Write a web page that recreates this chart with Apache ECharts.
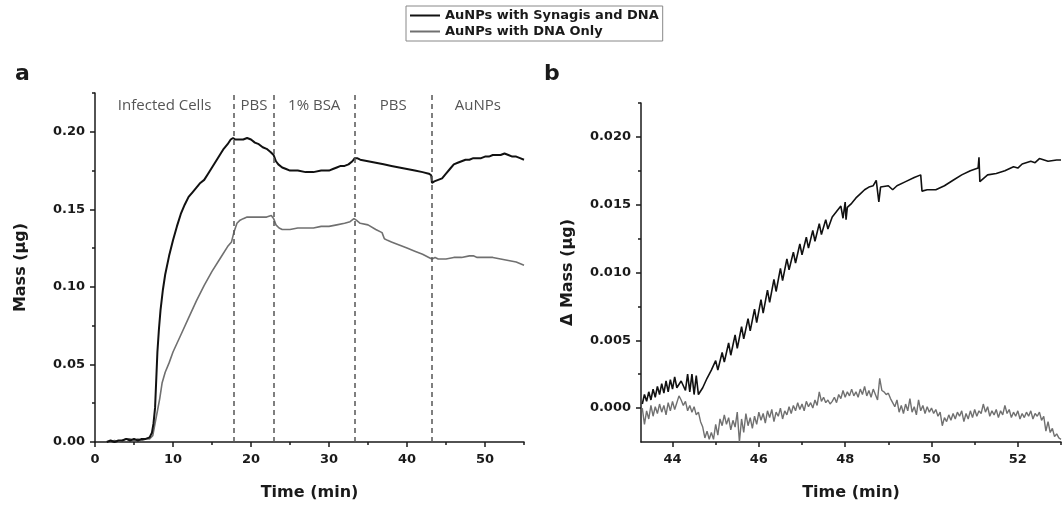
<!DOCTYPE html>
<html>
<head>
<meta charset="utf-8">
<title>AuNPs mass</title>
<script src="https://cdn.jsdelivr.net/npm/echarts@6/dist/echarts.min.js"></script>
<style>
  html, body { margin: 0; padding: 0; background: #fff; }
  #chart { width: 1062px; height: 505px; }
</style>
</head>
<body>
<div id="chart"></div>
<script>
// panel a: [time (min), mass (ug)]
const synagisA = [
  [1.5,0.000],[2,0.001],[2.5,0.000],[3,0.001],[3.5,0.001],[4,0.002],[4.5,0.001],[5,0.002],[5.5,0.001],[6,0.002],
  [6.5,0.002],[7,0.003],[7.3,0.006],[7.5,0.012],[7.7,0.022],[7.85,0.040],[8,0.058],[8.2,0.073],[8.4,0.085],[8.7,0.098],
  [9,0.108],[9.5,0.120],[10,0.130],[10.5,0.139],[11,0.147],[11.5,0.153],[12,0.158],[12.5,0.161],[13,0.164],[13.5,0.167],
  [14,0.169],[14.5,0.173],[15,0.177],[15.5,0.181],[16,0.185],[16.5,0.189],[17,0.192],[17.4,0.195],[17.7,0.196],[18,0.195],
  [18.5,0.195],[19,0.195],[19.5,0.196],[20,0.195],[20.5,0.193],[21,0.192],[21.5,0.190],[22,0.189],[22.5,0.187],[22.9,0.185],
  [23.2,0.181],[23.5,0.179],[24,0.177],[24.5,0.176],[25,0.175],[26,0.175],[27,0.174],[28,0.174],[29,0.175],[30,0.175],
  [30.5,0.176],[31,0.177],[31.5,0.178],[32,0.178],[32.5,0.179],[33,0.181],[33.3,0.183],[33.6,0.183],[34,0.182],[35,0.181],
  [36,0.180],[37,0.179],[38,0.178],[39,0.177],[40,0.176],[41,0.175],[42,0.174],[42.8,0.173],[43.1,0.172],[43.2,0.167],
  [43.5,0.168],[44,0.169],[44.5,0.170],[45,0.173],[45.5,0.176],[46,0.179],[46.5,0.180],[47,0.181],[47.5,0.182],[48,0.182],
  [48.5,0.183],[49,0.183],[49.5,0.183],[50,0.184],[50.5,0.184],[51,0.185],[51.5,0.185],[52,0.185],[52.5,0.186],[53,0.185],
  [53.5,0.184],[54,0.184],[54.5,0.183],[55,0.182]
];
const dnaOnlyA = [
  [1.5,0.000],[2,0.000],[2.5,0.001],[3,0.000],[3.5,0.001],[4,0.002],[4.5,0.002],[5,0.001],[5.5,0.002],[6,0.001],
  [6.5,0.002],[7,0.002],[7.4,0.004],[7.7,0.012],[8,0.020],[8.3,0.028],[8.6,0.038],[9,0.045],[9.5,0.051],[10,0.058],
  [11,0.069],[12,0.080],[13,0.091],[14,0.101],[15,0.110],[16,0.118],[17,0.126],[17.5,0.129],[17.8,0.135],[18.2,0.141],
  [18.6,0.143],[19,0.144],[19.5,0.145],[20,0.145],[21,0.145],[22,0.145],[22.6,0.146],[22.9,0.144],[23.2,0.140],[23.6,0.138],
  [24,0.137],[25,0.137],[26,0.138],[27,0.138],[28,0.138],[29,0.139],[30,0.139],[31,0.140],[32,0.141],[32.7,0.142],
  [33.2,0.144],[33.5,0.143],[34,0.141],[35,0.140],[36,0.137],[36.8,0.135],[37.1,0.131],[37.5,0.130],[38,0.129],[39,0.127],
  [40,0.125],[41,0.123],[42,0.121],[42.8,0.119],[43.2,0.118],[43.6,0.119],[44,0.118],[45,0.118],[46,0.119],[47,0.119],
  [48,0.120],[48.5,0.120],[49,0.119],[50,0.119],[51,0.119],[52,0.118],[53,0.117],[54,0.116],[55,0.114]
];

// panel b: [time (min), delta mass (ug)]
const synagisB = [
  [43.30,0.0003],[43.35,0.0010],[43.40,0.0005],[43.45,0.0012],[43.50,0.0006],[43.55,0.0014],[43.60,0.0008],[43.65,0.0016],
  [43.70,0.0010],[43.75,0.0018],[43.80,0.0011],[43.85,0.0020],[43.90,0.0012],[43.95,0.0021],[44.00,0.0014],[44.05,0.0023],
  [44.10,0.0015],[44.20,0.0020],[44.30,0.0013],[44.35,0.0025],[44.40,0.0012],[44.45,0.0025],[44.50,0.0010],[44.55,0.0024],
  [44.60,0.0010],[44.70,0.0015],[44.80,0.0022],[44.90,0.0028],[45.00,0.0035],[45.05,0.0028],[45.15,0.0041],[45.20,0.0034],
  [45.30,0.0048],[45.35,0.0039],[45.45,0.0054],[45.50,0.0044],[45.60,0.0060],[45.65,0.0051],[45.75,0.0066],[45.80,0.0057],
  [45.90,0.0073],[45.95,0.0063],[46.05,0.0080],[46.10,0.0070],[46.20,0.0087],[46.25,0.0078],[46.35,0.0095],[46.40,0.0086],
  [46.50,0.0103],[46.55,0.0094],[46.65,0.0110],[46.70,0.0102],[46.80,0.0115],[46.85,0.0107],[46.95,0.0121],[47.00,0.0113],
  [47.10,0.0126],[47.15,0.0118],[47.25,0.0131],[47.30,0.0123],[47.40,0.0136],[47.45,0.0128],[47.55,0.0139],[47.60,0.0132],
  [47.70,0.0141],[47.80,0.0145],[47.90,0.0149],[47.95,0.0140],[48.00,0.0152],[48.02,0.0139],[48.05,0.0148],[48.15,0.0151],
  [48.25,0.0155],[48.35,0.0158],[48.45,0.0161],[48.55,0.0163],[48.65,0.0164],[48.72,0.0168],[48.78,0.0152],[48.82,0.0163],
  [49.00,0.0164],[49.10,0.0161],[49.20,0.0164],[49.40,0.0167],[49.60,0.0170],[49.75,0.0172],[49.78,0.0160],[49.90,0.0161],
  [50.10,0.0161],[50.30,0.0164],[50.50,0.0168],[50.70,0.0172],[50.90,0.0175],[51.08,0.0177],[51.10,0.0185],[51.12,0.0167],
  [51.30,0.0172],[51.50,0.0173],[51.70,0.0175],[51.90,0.0178],[52.00,0.0177],[52.10,0.0180],[52.30,0.0182],[52.40,0.0181],
  [52.50,0.0184],[52.70,0.0182],[52.90,0.0183],[53.00,0.0183]
];
const dnaOnlyB = [
  [43.30,0.0000],[43.35,-0.0012],[43.40,-0.0002],[43.45,-0.0008],[43.50,0.0002],[43.55,-0.0006],[43.60,0.0001],[43.65,-0.0004],
  [43.70,0.0003],[43.75,-0.0003],[43.80,0.0002],[43.85,-0.0005],[43.90,0.0004],[43.95,-0.0002],[44.00,0.0005],[44.05,-0.0001],
  [44.10,0.0004],[44.15,0.0009],[44.20,0.0006],[44.25,0.0002],[44.30,0.0005],[44.35,-0.0002],[44.40,0.0002],[44.45,-0.0003],
  [44.50,0.0001],[44.55,-0.0005],[44.60,-0.0003],[44.65,-0.0010],[44.70,-0.0014],[44.75,-0.0022],[44.80,-0.0017],[44.85,-0.0023],
  [44.90,-0.0018],[44.95,-0.0023],[45.00,-0.0012],[45.05,-0.0020],[45.10,-0.0008],[45.15,-0.0013],[45.20,-0.0005],[45.25,-0.0012],
  [45.30,-0.0007],[45.35,-0.0016],[45.40,-0.0009],[45.45,-0.0014],[45.50,-0.0003],[45.55,-0.0025],[45.60,-0.0008],[45.65,-0.0018],
  [45.70,-0.0004],[45.75,-0.0013],[45.80,-0.0007],[45.85,-0.0015],[45.90,-0.0006],[45.95,-0.0012],[46.00,-0.0003],[46.05,-0.0009],
  [46.10,-0.0004],[46.15,-0.0011],[46.20,-0.0002],[46.25,-0.0007],[46.30,-0.0001],[46.35,-0.0010],[46.40,-0.0003],[46.45,-0.0006],
  [46.50,0.0000],[46.55,-0.0008],[46.60,-0.0002],[46.65,-0.0005],[46.70,0.0001],[46.75,-0.0004],[46.80,0.0002],[46.85,-0.0002],
  [46.90,0.0004],[46.95,-0.0001],[47.00,0.0003],[47.05,-0.0002],[47.10,0.0005],[47.15,0.0001],[47.20,0.0004],[47.25,0.0000],
  [47.30,0.0006],[47.35,0.0002],[47.40,0.0012],[47.45,0.0005],[47.50,0.0008],[47.55,0.0004],[47.60,0.0006],[47.65,0.0003],
  [47.70,0.0005],[47.75,0.0008],[47.80,0.0004],[47.85,0.0010],[47.90,0.0007],[47.95,0.0013],[48.00,0.0008],[48.05,0.0012],
  [48.10,0.0009],[48.15,0.0014],[48.20,0.0009],[48.25,0.0012],[48.30,0.0008],[48.35,0.0014],[48.40,0.0010],[48.45,0.0016],
  [48.50,0.0009],[48.55,0.0013],[48.60,0.0008],[48.65,0.0014],[48.70,0.0010],[48.75,0.0006],[48.80,0.0022],[48.85,0.0013],
  [48.90,0.0012],[48.95,0.0010],[49.00,0.0011],[49.05,0.0007],[49.10,0.0004],[49.15,0.0001],[49.20,0.0006],[49.25,-0.0003],
  [49.30,0.0002],[49.35,-0.0004],[49.40,0.0003],[49.45,-0.0002],[49.50,0.0007],[49.55,-0.0003],[49.60,0.0001],[49.65,-0.0005],
  [49.70,0.0006],[49.75,-0.0002],[49.80,0.0002],[49.85,-0.0004],[49.90,0.0001],[49.95,-0.0003],[50.00,0.0000],[50.05,-0.0004],
  [50.10,-0.0001],[50.15,-0.0006],[50.20,-0.0003],[50.25,-0.0013],[50.30,-0.0007],[50.35,-0.0010],[50.40,-0.0005],[50.45,-0.0009],
  [50.50,-0.0004],[50.55,-0.0008],[50.60,-0.0003],[50.65,-0.0006],[50.70,-0.0002],[50.75,-0.0010],[50.80,-0.0004],[50.85,-0.0008],
  [50.90,-0.0002],[50.95,-0.0007],[51.00,-0.0001],[51.05,-0.0006],[51.10,-0.0002],[51.15,-0.0004],[51.20,0.0003],[51.25,-0.0003],
  [51.30,0.0001],[51.35,-0.0006],[51.40,-0.0002],[51.45,-0.0005],[51.50,-0.0001],[51.55,-0.0007],[51.60,-0.0002],[51.65,-0.0005],
  [51.70,0.0002],[51.75,-0.0004],[51.80,-0.0001],[51.85,-0.0007],[51.90,-0.0003],[51.95,-0.0006],[52.00,-0.0002],[52.05,-0.0008],
  [52.10,-0.0004],[52.15,-0.0007],[52.20,-0.0003],[52.25,-0.0006],[52.30,-0.0002],[52.35,-0.0008],[52.40,-0.0004],[52.45,-0.0006],
  [52.50,-0.0003],[52.55,-0.0009],[52.60,-0.0006],[52.65,-0.0017],[52.70,-0.0010],[52.75,-0.0018],[52.80,-0.0015],[52.85,-0.0021],
  [52.90,-0.0019],[52.95,-0.0022],[53.00,-0.0023]
];

// injection stages in panel a
const stageEdges = [0, 17.84, 22.92, 33.29, 43.19, 55];
const stageNames = ['Infected Cells', 'PBS', '1% BSA', 'PBS', 'AuNPs'];

// tick / label positions
const ticksAx = [0, 10, 20, 30, 40, 50];
const minorAx = [5, 15, 25, 35, 45, 55];
const ticksAy = [0, 0.05, 0.1, 0.15, 0.2];
const minorAy = [0.025, 0.075, 0.125, 0.175, 0.225];
const ticksBx = [44, 46, 48, 50, 52];
const minorBx = [45, 47, 49, 51, 53];
const ticksBy = [0, 0.005, 0.01, 0.015, 0.02];
const minorBy = [0.0025, 0.0075, 0.0125, 0.0175, 0.0225];

const nameSynagis = 'AuNPs with Synagis and DNA';
const nameDna = 'AuNPs with DNA Only';

const INK = '#1a1a1a';
const BOLD = 'DejaVu Sans';

function mainAxis(grid, min, max, labels, fmt, name, gap) {
  return {
    type: 'value', gridIndex: grid, min: min, max: max,
    name: name, nameLocation: 'middle', nameGap: gap,
    nameTextStyle: { fontFamily: BOLD, fontWeight: 'bold', fontSize: 16, color: INK },
    axisLine: { show: true, onZero: false, lineStyle: { color: INK, width: 1.5 } },
    axisTick: { show: true, customValues: labels, length: 5, lineStyle: { color: INK, width: 1.5 } },
    axisLabel: {
      customValues: labels, formatter: fmt, margin: 10,
      fontFamily: BOLD, fontWeight: 'bold', fontSize: 13, color: INK
    },
    splitLine: { show: false }
  };
}

function minorAxis(grid, min, max, ticks) {
  return {
    type: 'value', gridIndex: grid, min: min, max: max,
    axisLine: { show: false, onZero: false },
    axisTick: { show: true, customValues: ticks, length: 3, lineStyle: { color: INK, width: 1.5 } },
    axisLabel: { show: false },
    splitLine: { show: false }
  };
}

const xAxes = [
  mainAxis(0, 0, 55, ticksAx, (v) => String(v), 'Time (min)', 43),
  mainAxis(1, 43.27, 53, ticksBx, (v) => String(v), 'Time (min)', 43),
  minorAxis(0, 0, 55, minorAx),
  minorAxis(1, 43.27, 53, minorBx)
];
xAxes.forEach((a) => { a.position = 'bottom'; });
xAxes[0].axisLabel.margin = 11;
xAxes[1].axisLabel.margin = 11;

const yAxes = [
  mainAxis(0, 0, 0.225, ticksAy, (v) => v.toFixed(2), 'Mass (μg)', 66),
  mainAxis(1, -0.0025, 0.0225, ticksBy, (v) => v.toFixed(3), 'Δ Mass (μg)', 65),
  minorAxis(0, 0, 0.225, minorAy),
  minorAxis(1, -0.0025, 0.0225, minorBy)
];
yAxes.forEach((a) => { a.position = 'left'; });

const stageAreas = stageNames.map((n, i) => [
  { name: n, xAxis: stageEdges[i] },
  { xAxis: stageEdges[i + 1] }
]);
const stageLines = stageEdges.slice(1, -1).map((x) => ({ xAxis: x }));

const chart = echarts.init(document.getElementById('chart'), null, { renderer: 'canvas' });

chart.setOption({
  animation: false,
  backgroundColor: '#fff',
  legend: {
    left: 406, top: 6,
    orient: 'vertical',
    itemWidth: 30, itemHeight: 2, itemGap: 3,
    padding: [3, 4, 3, 4],
    borderColor: '#888', borderWidth: 1,
    icon: 'rect',
    textStyle: { fontFamily: BOLD, fontWeight: 'bold', fontSize: 13, color: INK },
    data: [nameSynagis, nameDna]
  },
  graphic: [
    { type: 'text', left: 15, top: 63, style: { text: 'a', font: 'bold 22px "DejaVu Sans"', fill: INK } },
    { type: 'text', left: 544, top: 63, style: { text: 'b', font: 'bold 22px "DejaVu Sans"', fill: INK } }
  ],
  grid: [
    { left: 95, right: 538, top: 93, bottom: 63, outerBoundsMode: 'none' },
    { left: 641, right: 1, top: 103, bottom: 63, outerBoundsMode: 'none' }
  ],
  xAxis: xAxes,
  yAxis: yAxes,
  series: [
    {
      name: nameDna, type: 'line', xAxisIndex: 0, yAxisIndex: 0,
      data: dnaOnlyA, showSymbol: false, color: '#707070',
      lineStyle: { width: 1.6, color: '#707070' }
    },
    {
      name: nameSynagis, type: 'line', xAxisIndex: 0, yAxisIndex: 0,
      data: synagisA, showSymbol: false, color: '#111',
      lineStyle: { width: 2, color: '#111' },
      markLine: {
        silent: true, symbol: 'none',
        label: { show: false },
        lineStyle: { type: [5, 4], color: '#555', width: 1.5 },
        data: stageLines
      },
      markArea: {
        silent: true,
        itemStyle: { color: 'rgba(0,0,0,0)' },
        label: {
          show: true, position: 'insideTop', distance: 5,
          fontFamily: 'Open Sans', fontSize: 15, color: '#555'
        },
        data: stageAreas
      }
    },
    {
      name: nameDna, type: 'line', xAxisIndex: 1, yAxisIndex: 1,
      data: dnaOnlyB, showSymbol: false, color: '#707070',
      lineStyle: { width: 1.4, color: '#707070' }
    },
    {
      name: nameSynagis, type: 'line', xAxisIndex: 1, yAxisIndex: 1,
      data: synagisB, showSymbol: false, color: '#111',
      lineStyle: { width: 1.6, color: '#111' }
    }
  ]
});

window.addEventListener('resize', () => chart.resize());
</script>
</body>
</html>
